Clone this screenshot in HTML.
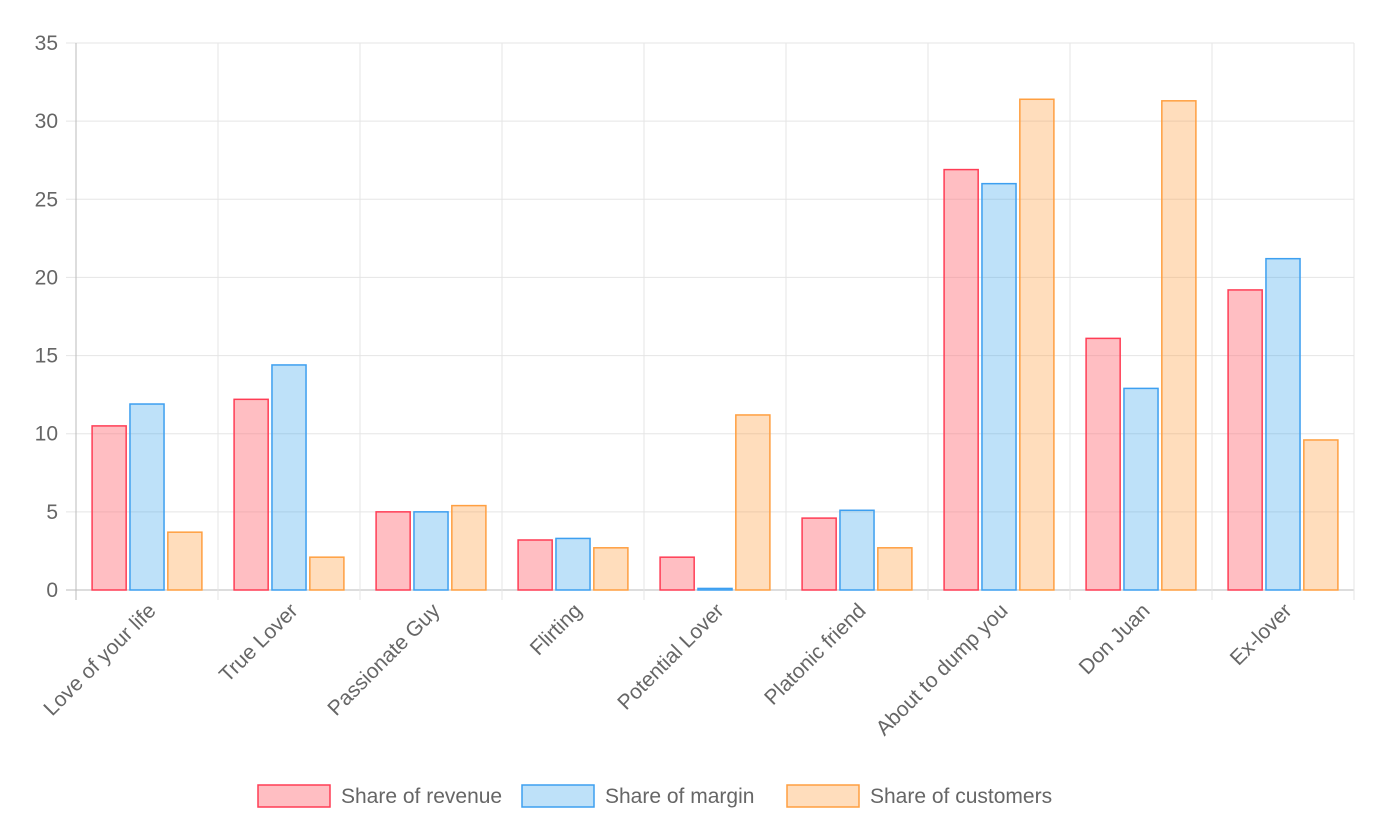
<!DOCTYPE html>
<html><head><meta charset="utf-8"><style>
body{margin:0;background:#fff;font-family:"Liberation Sans",sans-serif;}
svg text{font-family:"Liberation Sans",sans-serif;fill:#666;}
</style></head><body>
<svg id="chart" width="1374" height="818" xmlns="http://www.w3.org/2000/svg"></svg>
<script>
const categories=["Love of your life","True Lover","Passionate Guy","Flirting","Potential Lover","Platonic friend","About to dump you","Don Juan","Ex-lover"];
const revenue=[10.5,12.2,5.0,3.2,2.1,4.6,26.9,16.1,19.2];
const margin=[11.9,14.4,5.0,3.3,0.1,5.1,26.0,12.9,21.2];
const customers=[3.7,2.1,5.4,2.7,11.2,2.7,31.4,31.3,9.6];
const yTicks=[0,5,10,15,20,25,30,35];
const seriesNames=["Share of revenue","Share of margin","Share of customers"];
const NS="http://www.w3.org/2000/svg";
const svg=document.getElementById('chart');
const L=76,R=1354,T=43,B=590,yMax=35;
const y=v=>B-(v/yMax)*(B-T);
const cw=(R-L)/categories.length;
const x=i=>L+i*cw;
function mk(tag,attrs,parent){const e=document.createElementNS(NS,tag);for(const k in attrs)e.setAttribute(k,attrs[k]);(parent||svg).appendChild(e);return e;}
yTicks.forEach(t=>{
  const l=mk('line',{x1:66,x2:R,y1:y(t),y2:y(t),stroke:t===0?'#bbb':'#e5e5e5','stroke-width':1});
  
  
  const tx=mk('text',{x:58,y:y(t)+7,'text-anchor':'end','font-size':21});
  tx.textContent=t;
  
  
});
for(let i=0;i<=categories.length;i++){
  const l=mk('line',{x1:x(i),x2:x(i),y1:T,y2:B+10,stroke:i===0?'#bbb':'#e5e5e5','stroke-width':1});
  
  
}
const fills=['rgba(255,110,120,0.45)','rgba(54,162,235,0.32)','rgba(255,159,64,0.35)'];
const strokes=['#ff3d55','#3d9ff0','#ff9f40'];
const series=[revenue,margin,customers];
const bw=cw*0.8/3*0.9;
series.forEach((s,si)=>{
  s.forEach((v,i)=>{
    const cx=x(i)+cw*0.1+cw*0.8/3*(si+0.5);
    const r=mk('rect',{x:cx-bw/2,y:y(v),width:bw,height:B-y(v),fill:fills[si],stroke:strokes[si],'stroke-width':1.5});
    
    
  });
});
categories.forEach((c,i)=>{
  const cx=x(i)+cw/2+10, cy=B+22;
  const t=mk('text',{x:cx,y:cy,'text-anchor':'end','font-size':21,transform:`rotate(-45 ${cx} ${cy})`});
  t.textContent=c;
  
  
});
const lx=[258,522,787];
seriesNames.forEach((n,si)=>{
  const g=mk('g',{});
  
  
  mk('rect',{x:lx[si],y:785,width:72,height:22,fill:fills[si],stroke:strokes[si],'stroke-width':1.5},g);
  const t=mk('text',{x:lx[si]+83,y:803,'font-size':21},g);
  t.textContent=n;
});
</script>
</body></html>
